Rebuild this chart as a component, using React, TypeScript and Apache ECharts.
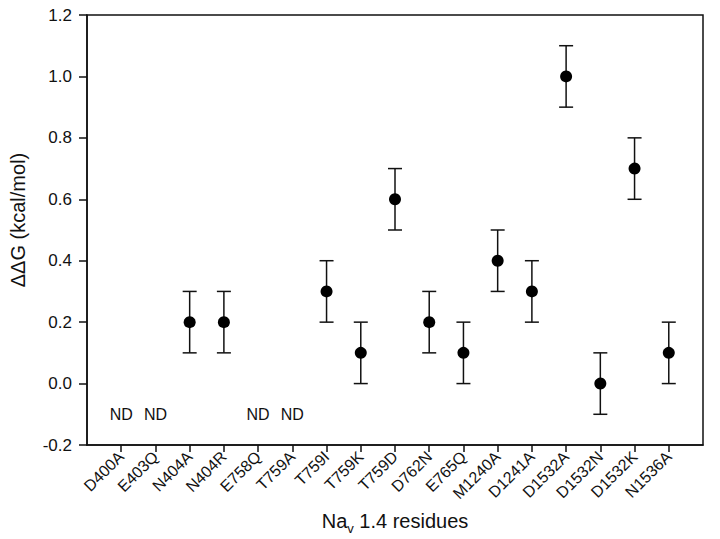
import React, { useEffect, useRef } from "react";
import * as echarts from "echarts";

const categories = [
  "D400A", "E403Q", "N404A", "N404R", "E758Q", "T759A", "T759I", "T759K", "T759D",
  "D762N", "E765Q", "M1240A", "D1241A", "D1532A", "D1532N", "D1532K", "N1536A",
];
// null = not determined (ND)
const ddG: (number | null)[] = [
  null, null, 0.2, 0.2, null, null, 0.3, 0.1, 0.6, 0.2, 0.1, 0.4, 0.3, 1.0, 0.0, 0.7, 0.1,
];
const errors: (number | null)[] = [
  null, null, 0.1, 0.1, null, null, 0.1, 0.1, 0.1, 0.1, 0.1, 0.1, 0.1, 0.1, 0.1, 0.1, 0.1,
];
const ndLevel = -0.1;
const yTicks = { min: -0.2, max: 1.2, interval: 0.2 };

export default function App() {
  const ref = useRef<HTMLDivElement>(null);
  useEffect(() => {
    if (!ref.current) return;
    const chart = echarts.init(ref.current, null, { renderer: "svg" });
    const positions = categories.map((_, i) => i + 1);
    const pointData: any[] = [];
    const errData: any[] = [];
    const ndData: any[] = [];
    categories.forEach((c, i) => {
      const v = ddG[i];
      const x = positions[i];
      if (v === null) {
        ndData.push([x, ndLevel]);
      } else {
        pointData.push([x, v]);
        errData.push([x, v - (errors[i] as number), v + (errors[i] as number)]);
      }
    });
    const font = "Liberation Sans, Arial, sans-serif";
    chart.setOption({
      animation: false,
      backgroundColor: "#fff",
      grid: {
        left: 87, right: 17, top: 15, bottom: 94,
        show: true, borderColor: "#111", borderWidth: 1.5, backgroundColor: "transparent",
      },
      xAxis: {
        type: "value",
        min: 0,
        max: categories.length + 1,
        interval: 1,
        axisLine: { onZero: false, lineStyle: { color: "#111", width: 1.5 } },
        axisTick: {
          show: true,
          length: 7,
          lineStyle: { color: "#111", width: 1.5 },
          customValues: positions,
        },
        axisLabel: {
          customValues: positions,
          rotate: 45,
          margin: 9,
          color: "#111",
          fontSize: 16,
          fontFamily: font,
          formatter: (v: number) => categories[Math.round(v) - 1] ?? "",
        },
        splitLine: { show: false },
      },
      yAxis: {
        type: "value",
        min: yTicks.min,
        max: yTicks.max,
        interval: yTicks.interval,
        axisLine: { show: true, onZero: false, lineStyle: { color: "#111", width: 1.5 } },
        axisTick: { show: true, length: 8, lineStyle: { color: "#111", width: 1.5 } },
        axisLabel: {
          color: "#111",
          fontSize: 17,
          fontFamily: font,
          margin: 15,
          formatter: (v: number) => v.toFixed(1),
        },
        splitLine: { show: false },
      },
      graphic: [
        {
          type: "text",
          x: 18,
          y: 220,
          rotation: Math.PI / 2,
          style: {
            text: "ΔΔG (kcal/mol)",
            fill: "#111",
            font: `20px ${font}`,
            align: "center",
            verticalAlign: "middle",
          },
        },
        {
          type: "text",
          x: 395,
          y: 521,
          style: {
            text: "{a|Na}{s|v}{a| 1.4 residues}",
            align: "center",
            verticalAlign: "middle",
            rich: {
              a: { fontSize: 20, fontFamily: font, fill: "#111", color: "#111" },
              s: { fontSize: 13, fontFamily: font, fill: "#111", color: "#111", padding: [14, 0, 0, 0] },
            },
          },
        },
      ],
      series: [
        {
          type: "custom",
          data: errData,
          renderItem: (params: any, api: any) => {
            const x = api.value(0);
            const lo = api.coord([x, api.value(1)]);
            const hi = api.coord([x, api.value(2)]);
            const hw = 7;
            const style = { stroke: "#111", lineWidth: 1.5 };
            return {
              type: "group",
              children: [
                { type: "line", shape: { x1: lo[0], y1: lo[1], x2: hi[0], y2: hi[1] }, style },
                { type: "line", shape: { x1: lo[0] - hw, y1: lo[1], x2: lo[0] + hw, y2: lo[1] }, style },
                { type: "line", shape: { x1: hi[0] - hw, y1: hi[1], x2: hi[0] + hw, y2: hi[1] }, style },
              ],
            };
          },
          z: 2,
        },
        {
          type: "scatter",
          data: pointData,
          symbol: "circle",
          symbolSize: 12,
          itemStyle: { color: "#000", opacity: 1 },
          z: 3,
        },
        {
          type: "custom",
          data: ndData,
          renderItem: (params: any, api: any) => {
            const p = api.coord([api.value(0), api.value(1)]);
            return {
              type: "text",
              x: p[0],
              y: p[1],
              style: {
                text: "ND",
                fill: "#111",
                font: `16px ${font}`,
                align: "center",
                verticalAlign: "middle",
              },
            };
          },
          z: 3,
        },
      ],
    });
    return () => chart.dispose();
  }, []);
  return <div ref={ref} style={{ width: 720, height: 539, position: "absolute", left: 0, top: 0 }} />;
}
